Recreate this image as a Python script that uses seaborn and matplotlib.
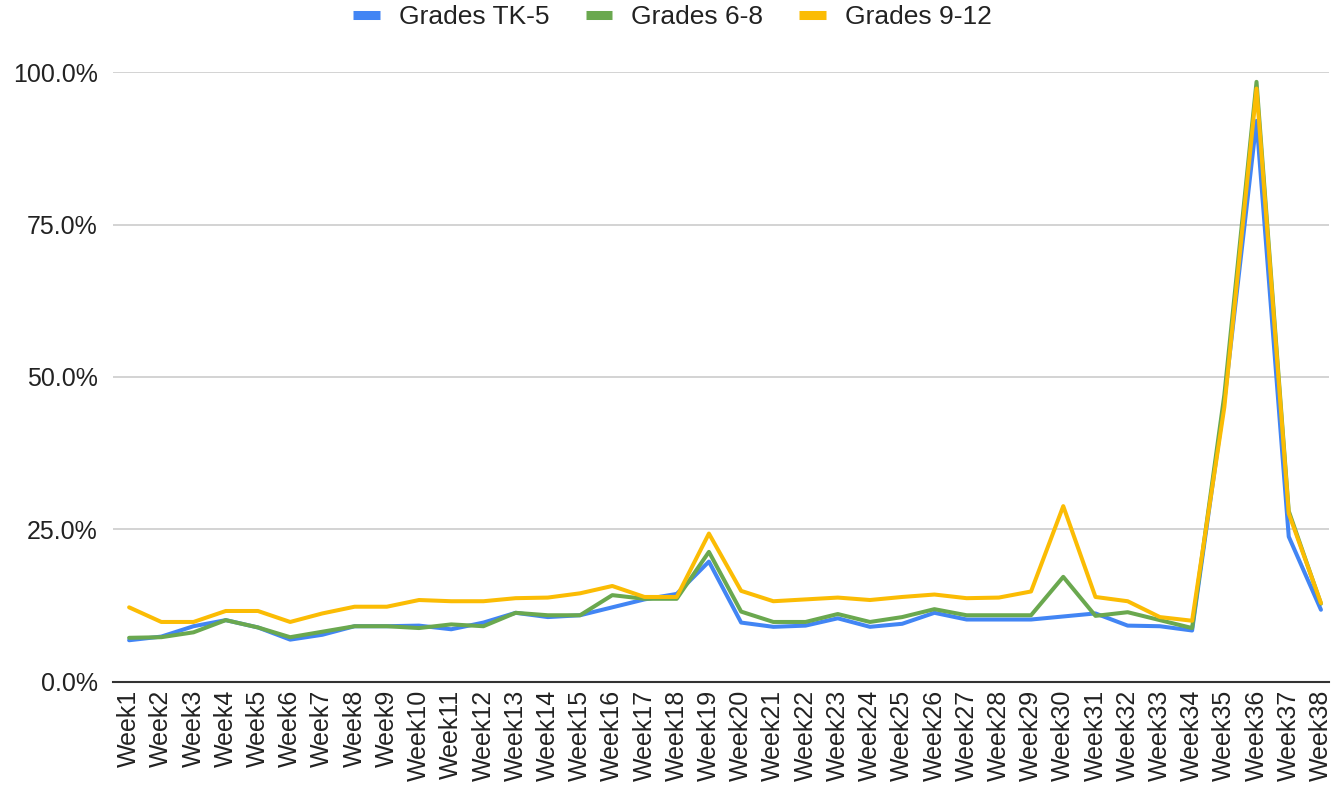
import numpy as np
import pandas as pd
import matplotlib
matplotlib.use("Agg")
import matplotlib.pyplot as plt
import seaborn as sns
from matplotlib.lines import Line2D
from matplotlib.ticker import PercentFormatter

weeks = [f"Week{i}" for i in range(1, 39)]

tk5 = [6.8, 7.4, 9.1, 10.1, 8.9, 6.9, 7.7, 9.1, 9.1, 9.2,
       8.6, 9.7, 11.3, 10.6, 10.9, 12.2, 13.5, 14.4, 19.7, 9.7,
       9.0, 9.2, 10.4, 9.0, 9.5, 11.3, 10.2, 10.2, 10.2, 10.7,
       11.2, 9.2, 9.1, 8.4, 46.0, 92.0, 23.8, 11.8]
g68 = [7.2, 7.3, 8.1, 10.1, 8.9, 7.3, 8.2, 9.1, 9.1, 8.8,
       9.4, 9.1, 11.3, 10.9, 10.9, 14.2, 13.6, 13.6, 21.3, 11.5,
       9.8, 9.8, 11.1, 9.8, 10.6, 11.9, 10.9, 10.9, 10.9, 17.2,
       10.8, 11.4, 10.1, 8.8, 47.0, 98.4, 28.0, 12.8]
g912 = [12.2, 9.8, 9.8, 11.6, 11.6, 9.8, 11.2, 12.3, 12.3, 13.4,
        13.2, 13.2, 13.7, 13.8, 14.5, 15.7, 13.9, 13.9, 24.3, 14.9,
        13.2, 13.5, 13.8, 13.4, 13.9, 14.3, 13.7, 13.8, 14.8, 28.8,
        13.9, 13.2, 10.6, 10.0, 45.0, 97.3, 27.6, 12.9]

series = ["Grades TK-5", "Grades 6-8", "Grades 9-12"]
colors = ["#4285f4", "#6aa84f", "#fbbc04"]

df = pd.concat([
    pd.DataFrame({"pos": range(len(weeks)), "week": weeks, "value": vals, "group": name})
    for name, vals in zip(series, [tk5, g68, g912])
])

sns.set_style("white")
plt.rcParams["font.family"] = ["Liberation Sans", "DejaVu Sans"]

fig = plt.figure(figsize=(13.32, 7.9), dpi=100)
ax = fig.add_axes([113 / 1332, 108.3 / 790, (1329 - 113) / 1332, 609.6 / 790])

sns.lineplot(data=df, x="pos", y="value", hue="group", palette=colors,
             hue_order=series, linewidth=2.9, sort=False, legend=False, ax=ax)

ax.set_xlim(-0.5, len(weeks) - 1 + 0.25)
ax.set_ylim(0, 100)
ax.set_xticks(range(len(weeks)))
ax.set_xticklabels(weeks, rotation=90, fontsize=18, color="#222222")
ax.set_yticks([0, 25, 50, 75, 100])
ax.yaxis.set_major_formatter(PercentFormatter(decimals=1))
ax.tick_params(axis="y", length=0, pad=11, labelsize=18, labelcolor="#222222")
ax.tick_params(axis="x", length=0, pad=6)
ax.set_xlabel("")
ax.set_ylabel("")

ax.grid(axis="y", color="#cccccc", linewidth=1.2)
ax.set_axisbelow(True)
for side in ["top", "right", "left"]:
    ax.spines[side].set_visible(False)
ax.spines["bottom"].set_color("#333333")
ax.spines["bottom"].set_linewidth(1.5)
ax.spines["bottom"].set_zorder(3)

# legend swatches are flat bars, like the sheets export
handles = [Line2D([0], [0], color=c, linewidth=6.5, solid_capstyle="butt") for c in colors]
fig.legend(handles, series, loc="center", bbox_to_anchor=(0.505, 0.978), ncol=3,
           frameon=False, fontsize=19, handlelength=1.02, handletextpad=0.72,
           columnspacing=1.36, labelcolor="#222222")

fig.savefig("out.png", dpi=100)
